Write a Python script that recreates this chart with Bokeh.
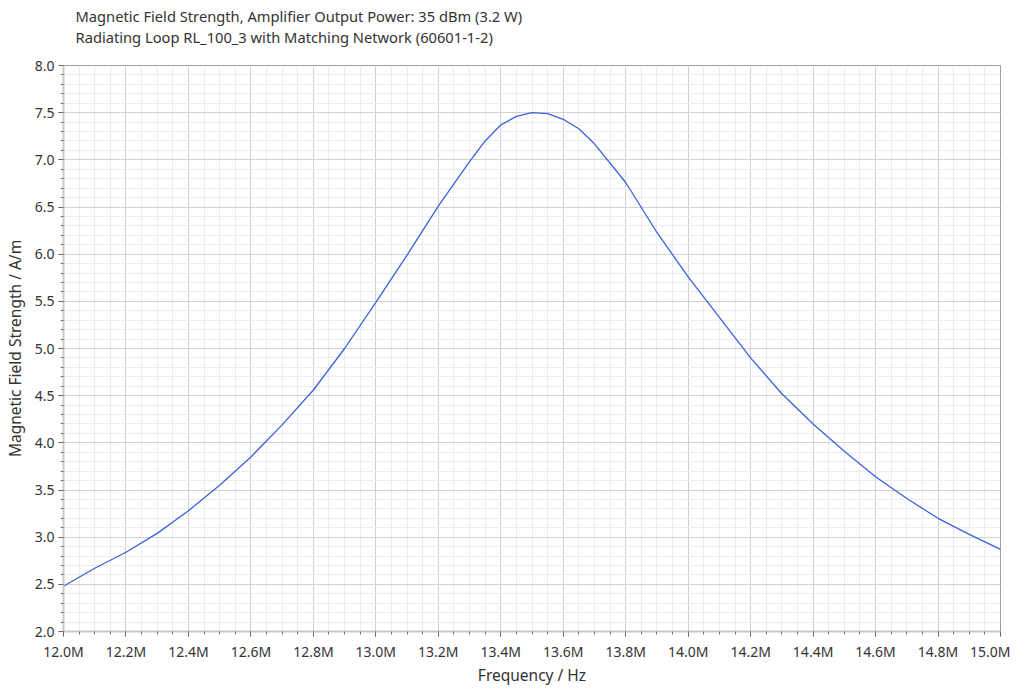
from bokeh.plotting import figure
from bokeh.models import FixedTicker, PrintfTickFormatter, Title, Range1d
from bokeh.embed import file_html
from bokeh.resources import INLINE

title_line1 = "Magnetic Field Strength, Amplifier Output Power: 35 dBm (3.2 W)"
title_line2 = "Radiating Loop RL_100_3 with Matching Network (60601-1-2)"
x_label = "Frequency / Hz"
y_label = "Magnetic Field Strength / A/m"

freq_mhz = [12.0, 12.1, 12.2, 12.3, 12.4, 12.5, 12.6, 12.7, 12.8, 12.9,
            13.0, 13.1, 13.2, 13.3, 13.35, 13.4, 13.45, 13.5, 13.55, 13.6,
            13.65, 13.7, 13.8, 13.9, 14.0, 14.1, 14.2, 14.3, 14.4, 14.5,
            14.6, 14.7, 14.8, 14.9, 15.0]
field_am = [2.48, 2.67, 2.84, 3.04, 3.28, 3.55, 3.85, 4.19, 4.56, 5.00,
            5.49, 5.99, 6.51, 6.98, 7.20, 7.37, 7.46, 7.50, 7.49, 7.43,
            7.33, 7.17, 6.76, 6.23, 5.76, 5.33, 4.90, 4.52, 4.20, 3.91,
            3.64, 3.41, 3.20, 3.03, 2.87]

x_major = [round(12.0 + 0.2 * i, 2) for i in range(16)]
x_minor = [round(12.0 + 0.05 * i, 3) for i in range(61)]
y_major = [round(2.0 + 0.5 * i, 2) for i in range(13)]
y_minor = [round(2.0 + 0.1 * i, 2) for i in range(61)]

FONT = "Noto Sans"
TXT = "#333333"

p = figure(width=1010, height=703, output_backend="svg", toolbar_location=None,
           x_range=Range1d(12.0, 15.0), y_range=Range1d(2.0, 8.0),
           min_border_left=63, min_border_right=10, min_border_top=0, min_border_bottom=0)
p.title = None
p.styles = {"margin-top": "-15.5px"}

title = Title(text=title_line1 + "\n" + title_line2, align="left", offset=12,
              text_font=FONT, text_font_size="14.7px", text_font_style="normal",
              text_color=TXT, text_line_height=1.03, standoff=37)
p.add_layout(title, "above")

p.line(freq_mhz, field_am, line_color="#3a62dc", line_width=1.3)

p.xaxis.ticker = FixedTicker(ticks=x_major, minor_ticks=x_minor)
p.yaxis.ticker = FixedTicker(ticks=y_major, minor_ticks=y_minor)
p.xaxis.formatter = PrintfTickFormatter(format="%.1fM")
p.yaxis.formatter = PrintfTickFormatter(format="%.1f")

for ax in (p.xaxis, p.yaxis):
    ax.axis_line_color = "#c8c8c8"
    ax.axis_line_width = 2
    ax.major_tick_line_color = "#555555"
    ax.minor_tick_line_color = "#777777"
    ax.major_tick_out = 5
    ax.major_tick_in = 0
    ax.minor_tick_out = 3
    ax.minor_tick_in = 0
    ax.major_label_text_font = FONT
    ax.major_label_text_font_size = "14px"
    ax.major_label_text_color = TXT
    ax.axis_label_text_font = FONT
    ax.axis_label_text_font_size = "15.5px"
    ax.axis_label_text_font_style = "normal"
    ax.axis_label_text_color = TXT

p.xaxis.axis_label = x_label
p.yaxis.axis_label = y_label
p.xaxis.major_label_standoff = 5
p.yaxis.major_label_standoff = 4
p.xaxis.axis_label_standoff = 0
p.yaxis.axis_label_standoff = 6

p.xgrid.ticker = FixedTicker(ticks=x_major, minor_ticks=x_minor)
p.ygrid.ticker = FixedTicker(ticks=y_major, minor_ticks=y_minor)
p.grid.grid_line_color = "#d2d2d2"
p.grid.grid_line_width = 1
p.grid.minor_grid_line_color = "#ececec"
p.grid.minor_grid_line_width = 1

p.outline_line_color = "#a0a0a0"
p.outline_line_width = 1
p.background_fill_color = "white"
p.border_fill_color = "white"

open("out.html", "w").write(file_html(p, INLINE))
